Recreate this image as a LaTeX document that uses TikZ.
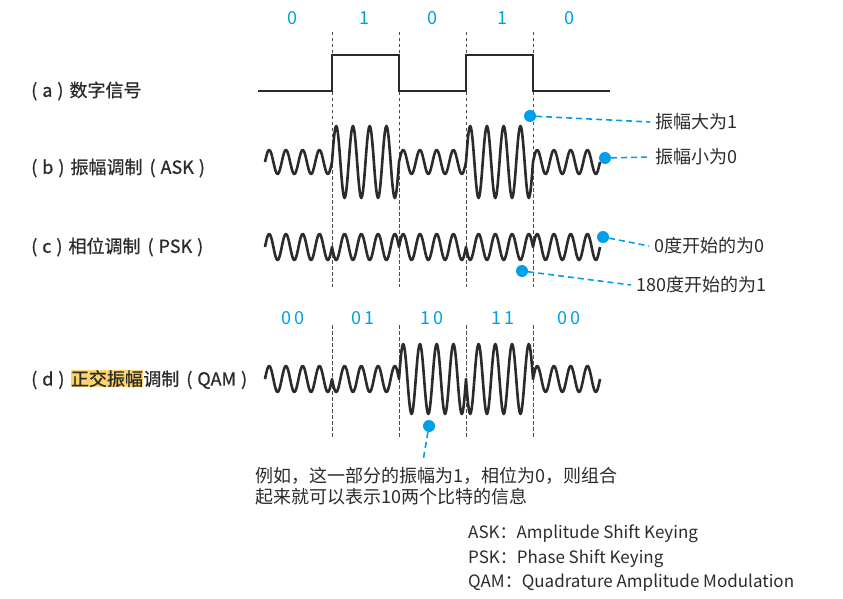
\documentclass[tikz,border=0pt]{standalone}
\usepackage{fontspec}
\setmainfont{Noto Sans CJK SC}
\newfontfamily\rowfont[FakeBold=0.8]{Noto Sans CJK SC}
\usepackage{xcolor}
\usepackage{tikz}
\usetikzlibrary{positioning}
\definecolor{ink}{HTML}{2B2B2B}
\definecolor{callblue}{HTML}{00A0E9}
\definecolor{hilite}{HTML}{FDD36B}
\newcommand{\rowparen}[1]{(\kern5pt#1\kern5pt)}

\begin{document}
\begin{tikzpicture}[x=1pt,y=-1pt,
  every node/.style={font=\fontsize{18}{22}\selectfont,text=ink,inner sep=0pt},
  rowtext/.style={anchor=west,font=\fontsize{18}{22}\rowfont},
  note/.style={anchor=west,inner xsep=5pt},
  bit/.style={text=callblue},
  wave/.style={ink,line width=2.6pt,line join=round},
  digital/.style={ink,line width=2.8pt},
  guide/.style={ink!85,line width=0.9pt,dash pattern=on 3.5pt off 2.5pt},
  dot/.style={circle,fill=callblue,minimum size=12pt},
  callout/.style={callblue,line width=1.6pt,dash pattern=on 6pt off 4pt}]
\useasboundingbox (0,0) rectangle (843,599);

% bit values
\foreach \bx/\bv [count=\i] in {292/0,364/1,432/0,502/1,569/0}
  \node[bit] (bit\i) at (\bx,18) {\bv};
\foreach \bx/\ba/\bb [count=\i] in {293/0/0,363/0/1,432/1/0,503/1/1,569/0/0}
  \node[bit] (pair\i) at (\bx,318) {\ba\kern3pt\bb};

% bit boundaries
\foreach \gx in {332,399,466,533} {
  \draw[guide] (\gx,32) -- (\gx,287);
  \draw[guide] (\gx,325) -- (\gx,437);
}

% row labels
\node[rowtext] (rowA) at (31,91) {\rowparen{a}\kern6pt 数字信号};
\node[rowtext] (rowB) at (31,168) {\rowparen{b}\kern6pt 振幅调制\kern7pt\rowparen{ASK}};
\node[rowtext] (rowC) at (31,247) {\rowparen{c}\kern6pt 相位调制\kern7pt\rowparen{PSK}};
\node[rowtext] (rowDa) at (31,380) {\rowparen{d}\kern6pt};
\node[rowtext,right=0pt of rowDa.base east,anchor=base west,fill=hilite] (rowDb) {正交振幅};
\node[rowtext,right=0pt of rowDb.base east,anchor=base west] (rowDc) {调制\kern7pt\rowparen{QAM}};

% (a) digital signal
\draw[digital] (258,91) -- (332,91) -- (332,55) -- (399,55) -- (399,91) -- (466,91)
  -- (466,55) -- (533,55) -- (533,91) -- (610,91);

% (b) ASK
\draw[wave] (265,162) \foreach \xs/\amp in {265/12,332/36,399/12,466/36,533/12}
  { -- plot[domain=0:67,samples=81] ({\xs+\x},{162-(\amp)*sin(\x/67*1440)}) };
% (c) PSK
\draw[wave] (265,247) \foreach \xs/\amp in {265/13,332/-13,399/13,466/-13,533/13}
  { -- plot[domain=0:67,samples=81] ({\xs+\x},{247-(\amp)*sin(\x/67*1440)}) };
% (d) QAM
\draw[wave] (265,379) \foreach \xs/\amp in {265/13,332/-13,399/35,466/-35,533/13}
  { -- plot[domain=0:67,samples=81] ({\xs+\x},{379-(\amp)*sin(\x/67*1440)}) };

% callouts
\node[dot] (dotHi) at (530,116) {};
\node[dot] (dotLo) at (605,158) {};
\node[dot] (dotZero) at (603,237) {};
\node[dot] (dotPi) at (522,271) {};
\node[dot] (dotEx) at (429,426) {};
\node[note] (noteHi) at (650,122) {振幅大为1};
\node[note] (noteLo) at (650,157) {振幅小为0};
\node[note] (noteZero) at (649,246) {0度开始的为0};
\node[note] (notePi) at (631,285) {180度开始的为1};
\node[anchor=north west,align=left] (noteEx) at (255,467)
  {例如，这一部分的振幅为1，相位为0，则组合\\[-1pt]起来就可以表示10两个比特的信息};
\coordinate (exEnd) at (423,461);
\draw[callout] (dotHi) -- (noteHi.west);
\draw[callout] (dotLo) -- (noteLo.west);
\draw[callout] (dotZero) -- (noteZero.west);
\draw[callout] (dotPi) -- (notePi.west);
\draw[callout] (dotEx) -- (exEnd);

% key
\node[anchor=north west,align=left,font=\fontsize{17}{24.5}\selectfont] (keys) at (468,525)
  {ASK：Amplitude Shift Keying\\PSK：Phase Shift Keying\\QAM：Quadrature Amplitude Modulation};
\end{tikzpicture}
\end{document}
